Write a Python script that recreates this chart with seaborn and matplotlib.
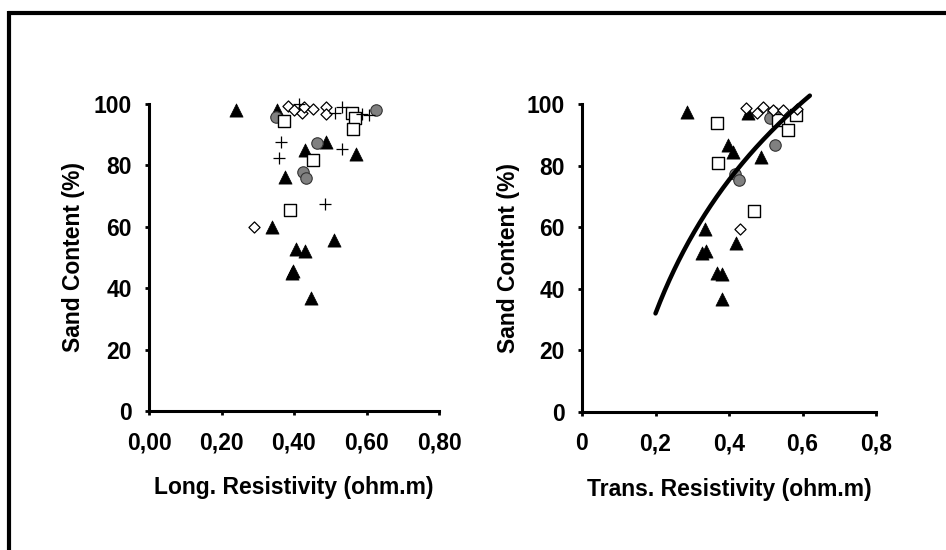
import numpy as np
import pandas as pd
import matplotlib
matplotlib.use("Agg")
import matplotlib.pyplot as plt
import seaborn as sns
from matplotlib.lines import Line2D

sns.set_theme(style="white")
plt.rcParams['font.family'] = ['Liberation Sans', 'DejaVu Sans']
plt.rcParams['font.weight'] = 'bold'

# ---------------- data ----------------
# Left panel: longitudinal resistivity
tri_long_x = [0.24, 0.354, 0.431, 0.489, 0.572, 0.376, 0.34, 0.406, 0.431, 0.511, 0.398, 0.395, 0.448]
tri_long_y = [98, 98, 85, 87.6, 83.7, 76.2, 60, 52.8, 52.1, 55.7, 45.6, 45, 36.8]
circ_long_x = [0.351, 0.627, 0.464, 0.425, 0.434]
circ_long_y = [95.8, 98, 87.3, 77.9, 75.9]
sq_long_x = [0.373, 0.561, 0.569, 0.564, 0.453, 0.39]
sq_long_y = [94.5, 97, 95.4, 92, 81.8, 65.5]
dia_long_x = [0.384, 0.40, 0.422, 0.428, 0.453, 0.489, 0.489, 0.29]
dia_long_y = [99.3, 98, 97, 99, 98.4, 99, 96.7, 60]
cross_long_x = [0.414, 0.514, 0.533, 0.588, 0.608, 0.365, 0.359, 0.533, 0.486]
cross_long_y = [100, 97, 99, 96.7, 96.4, 87.6, 82.4, 85.3, 67.4]

# Right panel: transverse resistivity
tri_trans_x = [0.286, 0.452, 0.398, 0.411, 0.488, 0.335, 0.42, 0.327, 0.338, 0.368, 0.381, 0.381]
tri_trans_y = [97.4, 97, 86.7, 84.4, 82.8, 59.4, 55, 51.6, 52.3, 45.1, 44.8, 36.7]
circ_trans_x = [0.52, 0.512, 0.526, 0.417, 0.428]
circ_trans_y = [97.4, 95.4, 86.7, 77.3, 75.3]
sq_trans_x = [0.534, 0.583, 0.561, 0.367, 0.37, 0.469]
sq_trans_y = [94.8, 96.4, 91.6, 93.8, 81, 65.2]
dia_trans_x = [0.447, 0.477, 0.493, 0.52, 0.548, 0.586, 0.43]
dia_trans_y = [98.7, 97, 99, 98, 98, 98.4, 59.4]

# logarithmic trend line on the right panel: y = a + b*ln(x)
trend_a = 132.6
trend_b = 62.5
trend_x_range = [0.2, 0.62]

left_xticks = [0.0, 0.2, 0.4, 0.6, 0.8]
left_xticklabels = ["0,00", "0,20", "0,40", "0,60", "0,80"]
right_xticks = [0.0, 0.2, 0.4, 0.6, 0.8]
right_xticklabels = ["0", "0,2", "0,4", "0,6", "0,8"]
yticks = [0, 20, 40, 60, 80, 100]
ylabel = "Sand Content (%)"
left_xlabel = "Long. Resistivity (ohm.m)"
right_xlabel = "Trans. Resistivity (ohm.m)"

# ---------------- styles ----------------
FS = 16.5
styles = {
    "tri":   dict(marker="^", s=90, color="black", edgecolor="black", linewidth=0.5),
    "circ":  dict(marker="o", s=68, color="#808080", edgecolor="#333333", linewidth=0.8),
    "sq":    dict(marker="s", s=65, color="white", edgecolor="black", linewidth=1.0),
    "dia":   dict(marker="D", s=32, color="white", edgecolor="black", linewidth=0.9),
    "cross": dict(marker="+", s=75, color="black", linewidth=0.9),
}

fig = plt.figure(figsize=(9.46, 5.5), dpi=100)
fig.patch.set_facecolor("white")

# outer frame (top and left visible)
fig.add_artist(Line2D([7.5 / 946, 1.05], [1 - 13 / 550, 1 - 13 / 550], color="black", lw=3.0,
                      transform=fig.transFigure, solid_capstyle="butt"))
fig.add_artist(Line2D([9 / 946, 9 / 946], [1 - 11 / 550, -0.05], color="black", lw=3.0,
                      transform=fig.transFigure, solid_capstyle="butt"))

axL = fig.add_axes([149 / 946, (550 - 411) / 550, 290 / 946, 307 / 550])
axR = fig.add_axes([582 / 946, (550 - 412) / 550, 294 / 946, 308 / 550])

def scatter(ax, xs, ys, key):
    st = dict(styles[key])
    sns.scatterplot(x=xs, y=ys, ax=ax, clip_on=False, zorder=3, legend=False, **st)

scatter(axL, tri_long_x, tri_long_y, "tri")
scatter(axL, circ_long_x, circ_long_y, "circ")
scatter(axL, sq_long_x, sq_long_y, "sq")
scatter(axL, dia_long_x, dia_long_y, "dia")
scatter(axL, cross_long_x, cross_long_y, "cross")

scatter(axR, tri_trans_x, tri_trans_y, "tri")
scatter(axR, circ_trans_x, circ_trans_y, "circ")
scatter(axR, sq_trans_x, sq_trans_y, "sq")
scatter(axR, dia_trans_x, dia_trans_y, "dia")

tx = np.linspace(trend_x_range[0], trend_x_range[1], 200)
ty = trend_a + trend_b * np.log(tx)
sns.lineplot(x=tx, y=ty, ax=axR, color="black", lw=3.2, clip_on=False, zorder=4,
             sort=False, estimator=None)

for ax, xt, xtl, xl, ylx in [(axL, left_xticks, left_xticklabels, left_xlabel, -0.22),
                             (axR, right_xticks, right_xticklabels, right_xlabel, -0.21)]:
    ax.set_xlim(0, 0.8)
    ax.set_ylim(0, 100)
    ax.set_xticks(xt)
    ax.set_xticklabels(xtl)
    ax.set_yticks(yticks)
    ax.set_yticklabels([str(v) for v in yticks])
    ax.set_facecolor("white")
    for side in ["top", "right"]:
        ax.spines[side].set_visible(False)
    for side in ["left", "bottom"]:
        ax.spines[side].set_visible(True)
        ax.spines[side].set_color("black")
        ax.spines[side].set_linewidth(2.2)
    ax.tick_params(axis="both", direction="out", length=3, width=2, color="black",
                   labelsize=FS, labelcolor="black")
    ax.tick_params(axis="x", pad=11.5, bottom=True)
    ax.tick_params(axis="y", pad=9.2, left=True)
    for lab in ax.get_xticklabels() + ax.get_yticklabels():
        lab.set_fontweight("bold")
    ax.set_xlabel(xl, fontsize=FS, fontweight="bold", color="black")
    ax.set_ylabel(ylabel, fontsize=FS, fontweight="bold", color="black")
    ax.xaxis.set_label_coords(0.5, -0.213)
    ax.yaxis.set_label_coords(ylx, 0.5)
    ax.grid(False)

fig.savefig("out.png", dpi=100, facecolor="white")
